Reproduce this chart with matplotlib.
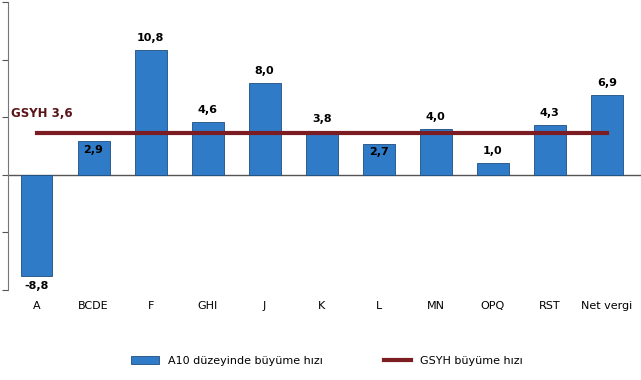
import matplotlib.pyplot as plt
import numpy as np

# Veriler
sektorler = ['A', 'BCDE', 'F', 'GHI', 'J', 'K', 'L', 'MN', 'OPQ', 'RST', 'Net vergi']
buyume = [-8.8, 2.9, 10.8, 4.6, 8.0, 3.8, 2.7, 4.0, 1.0, 4.3, 6.9]
gsyh = 3.6

W, H = 641, 380
fig = plt.figure(figsize=(W / 100, H / 100), dpi=100)
ax = fig.add_axes([8 / W, 90 / H, 633 / W, 288 / H])

x = np.arange(len(sektorler))
bars = ax.bar(x, buyume, width=0.56, color='#2F7BC8', edgecolor='#1E4F80', linewidth=0.6,
              label='A10 düzeyinde büyüme hızı', zorder=2)
line, = ax.plot([x[0], x[-1]], [gsyh, gsyh], color='#7A1C22', linewidth=3,
                label='GSYH büyüme hızı', zorder=3)

for xi, v in zip(x, buyume):
    txt = f'{v:.1f}'.replace('.', ',')
    if v < 0:
        ax.text(xi, v - 0.4, txt, ha='center', va='top', fontsize=8, weight='bold', zorder=4)
    elif v < gsyh and v > 2:
        # etiket çizgiye çakışmasın diye çubuğun içine
        ax.text(xi, v - 0.3, txt, ha='center', va='top', fontsize=8, weight='bold', zorder=4)
    else:
        ax.text(xi, v + 0.6, txt, ha='center', va='bottom', fontsize=8, weight='bold', zorder=4)

ax.text(-0.45, gsyh + 1.2, 'GSYH 3,6', color='#5A1418', fontsize=8.5, weight='bold',
        ha='left', va='bottom')

ax.axhline(0, color='#555555', linewidth=1, zorder=1)
ax.set_xlim(-0.5, 10.6)
ax.set_ylim(-10, 15)
ax.set_yticks([-10, -5, 0, 5, 10, 15])
ax.set_xticks(x)
ax.set_xticklabels(sektorler, fontsize=8)
ax.tick_params(axis='x', length=0, pad=8)
ax.tick_params(axis='y', labelsize=8, colors='#555555', length=4)
for s in ['top', 'right', 'bottom']:
    ax.spines[s].set_visible(False)
ax.spines['left'].set_color('#777777')

fig.legend(handles=[bars, line], loc='lower center', bbox_to_anchor=(0.51, 0.01), ncol=2,
           frameon=False, fontsize=8, columnspacing=5.5, handlelength=2.5)

plt.savefig('out.png', dpi=100)
